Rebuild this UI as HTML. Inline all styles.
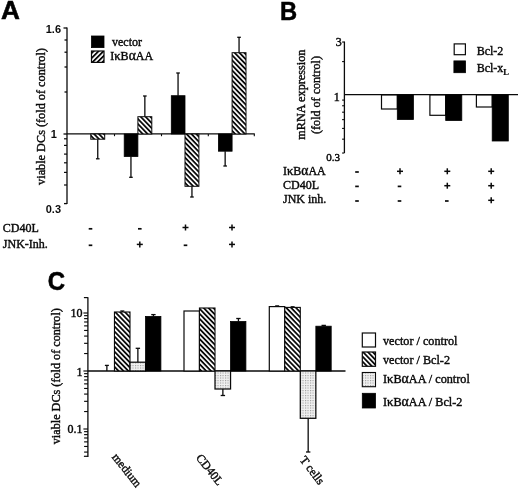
<!DOCTYPE html>
<html><head><meta charset="utf-8"><title>Figure</title>
<style>html,body{margin:0;padding:0;background:#fff;}svg{filter:grayscale(1);display:block;position:absolute;left:0;top:0}text{fill:#0a0a0a}</style></head>
<body><svg width="520" height="489" viewBox="0 0 520 489">
<rect width="520" height="489" fill="#fff"/>
<defs>
<pattern id="hA" width="3.5" height="3.5" patternUnits="userSpaceOnUse" patternTransform="rotate(46)"><rect width="3.5" height="3.5" fill="#fff"/><rect y="0" width="3.5" height="1.8" fill="#0a0a0a"/></pattern>
<pattern id="hL" width="3.5" height="3.5" patternUnits="userSpaceOnUse" patternTransform="rotate(-45)"><rect width="3.5" height="3.5" fill="#fff"/><rect y="0" width="3.5" height="1.8" fill="#0a0a0a"/></pattern>
<pattern id="hC" width="3.5" height="3.5" patternUnits="userSpaceOnUse" patternTransform="rotate(46)"><rect width="3.5" height="3.5" fill="#fff"/><rect y="0" width="3.5" height="1.8" fill="#0a0a0a"/></pattern>
<pattern id="hC2" width="3.5" height="3.5" patternUnits="userSpaceOnUse" patternTransform="rotate(46)"><rect width="3.5" height="3.5" fill="#fff"/><rect y="0" width="3.5" height="1.8" fill="#0a0a0a"/></pattern>
<pattern id="dC" width="2.5" height="2.5" patternUnits="userSpaceOnUse"><rect width="2.5" height="2.5" fill="#f1f1f1"/><rect width="1.1" height="1.1" fill="#999"/></pattern>
</defs>
<text transform="translate(0.9 19.1) scale(1.09 1.09)" x="0" y="0" font-family="'Liberation Sans', sans-serif" font-size="24" font-weight="bold" stroke="#000" stroke-width="0.5" style="fill:#000">A</text>
<line x1="67" y1="27.5" x2="67" y2="204" stroke="#0a0a0a" stroke-width="1.3" />
<line x1="63.5" y1="28" x2="67" y2="28" stroke="#0a0a0a" stroke-width="1.3" />
<line x1="64.5" y1="40" x2="67" y2="40" stroke="#0a0a0a" stroke-width="1.3" />
<line x1="64.5" y1="52.2" x2="67" y2="52.2" stroke="#0a0a0a" stroke-width="1.3" />
<line x1="64.5" y1="67" x2="67" y2="67" stroke="#0a0a0a" stroke-width="1.3" />
<line x1="64.5" y1="92" x2="67" y2="92" stroke="#0a0a0a" stroke-width="1.3" />
<line x1="63.5" y1="134" x2="67" y2="134" stroke="#0a0a0a" stroke-width="1.3" />
<line x1="64" y1="138.8" x2="67" y2="138.8" stroke="#0a0a0a" stroke-width="1.2" />
<line x1="64" y1="145.4" x2="67" y2="145.4" stroke="#0a0a0a" stroke-width="1.2" />
<line x1="64" y1="154.1" x2="67" y2="154.1" stroke="#0a0a0a" stroke-width="1.2" />
<line x1="64" y1="162.8" x2="67" y2="162.8" stroke="#0a0a0a" stroke-width="1.2" />
<line x1="64" y1="172.4" x2="67" y2="172.4" stroke="#0a0a0a" stroke-width="1.2" />
<line x1="64" y1="185" x2="67" y2="185" stroke="#0a0a0a" stroke-width="1.2" />
<line x1="64" y1="203.6" x2="67" y2="203.6" stroke="#0a0a0a" stroke-width="1.3" />
<line x1="67" y1="133.9" x2="254.8" y2="133.9" stroke="#0a0a0a" stroke-width="1.15" />
<line x1="114.5" y1="134" x2="114.5" y2="136.2" stroke="#0a0a0a" stroke-width="1.1" />
<line x1="161.5" y1="134" x2="161.5" y2="136.2" stroke="#0a0a0a" stroke-width="1.1" />
<line x1="208.3" y1="134" x2="208.3" y2="136.2" stroke="#0a0a0a" stroke-width="1.1" />
<line x1="254.3" y1="134" x2="254.3" y2="136.2" stroke="#0a0a0a" stroke-width="1.1" />
<text x="61" y="32.8" font-family="'Liberation Sans', serif" font-size="11" font-weight="bold" text-anchor="end" >1.6</text>
<text x="56.8" y="137.8" font-family="'Liberation Sans', serif" font-size="11" font-weight="bold" text-anchor="end" >1</text>
<text x="61" y="213" font-family="'Liberation Sans', serif" font-size="11" font-weight="bold" text-anchor="end" >0.3</text>
<text x="44.8" y="116.5" font-family="'Liberation Serif', serif" font-size="12.25" font-weight="normal" text-anchor="middle" transform="rotate(-90 44.8 116.5)" stroke="#0a0a0a" stroke-width="0.4" >viable DCs (fold of control)</text>
<line x1="97.75" y1="139.2" x2="97.75" y2="158.8" stroke="#0a0a0a" stroke-width="1.3" />
<line x1="95.95" y1="158.8" x2="99.55" y2="158.8" stroke="#0a0a0a" stroke-width="1.3" />
<rect x="90.80" y="134.00" width="13.90" height="5.20" fill="url(#hA)" stroke="#0a0a0a" stroke-width="1"/>
<line x1="130.95000000000002" y1="156.5" x2="130.95000000000002" y2="177.3" stroke="#0a0a0a" stroke-width="1.3" />
<line x1="129.15" y1="177.3" x2="132.75000000000003" y2="177.3" stroke="#0a0a0a" stroke-width="1.3" />
<rect x="124.20" y="134.00" width="13.70" height="22.50" fill="#000" stroke="#000" stroke-width="0.8"/>
<line x1="144.85" y1="116.7" x2="144.85" y2="96" stroke="#0a0a0a" stroke-width="1.3" />
<line x1="143.04999999999998" y1="96" x2="146.65" y2="96" stroke="#0a0a0a" stroke-width="1.3" />
<rect x="137.90" y="116.70" width="13.90" height="17.30" fill="url(#hA)" stroke="#0a0a0a" stroke-width="1"/>
<line x1="178.05" y1="95.7" x2="178.05" y2="73" stroke="#0a0a0a" stroke-width="1.3" />
<line x1="176.25" y1="73" x2="179.85000000000002" y2="73" stroke="#0a0a0a" stroke-width="1.3" />
<rect x="171.30" y="95.70" width="13.70" height="38.30" fill="#000" stroke="#000" stroke-width="0.8"/>
<line x1="191.95" y1="186.3" x2="191.95" y2="197" stroke="#0a0a0a" stroke-width="1.3" />
<line x1="190.14999999999998" y1="197" x2="193.75" y2="197" stroke="#0a0a0a" stroke-width="1.3" />
<rect x="185.00" y="134.00" width="13.90" height="52.30" fill="url(#hA)" stroke="#0a0a0a" stroke-width="1"/>
<line x1="225.15" y1="151.2" x2="225.15" y2="166" stroke="#0a0a0a" stroke-width="1.3" />
<line x1="223.35" y1="166" x2="226.95000000000002" y2="166" stroke="#0a0a0a" stroke-width="1.3" />
<rect x="218.40" y="134.00" width="13.70" height="17.20" fill="#000" stroke="#000" stroke-width="0.8"/>
<line x1="239.04999999999998" y1="52.7" x2="239.04999999999998" y2="37.3" stroke="#0a0a0a" stroke-width="1.3" />
<line x1="237.24999999999997" y1="37.3" x2="240.85" y2="37.3" stroke="#0a0a0a" stroke-width="1.3" />
<rect x="232.10" y="52.70" width="13.90" height="81.30" fill="url(#hA)" stroke="#0a0a0a" stroke-width="1"/>
<rect x="91.50" y="36.00" width="12.50" height="11.60" fill="#000" stroke="#000" stroke-width="0.8"/>
<rect x="91.50" y="51.00" width="12.50" height="11.40" fill="url(#hL)" stroke="#0a0a0a" stroke-width="1.2"/>
<text x="112" y="45.8" font-family="'Liberation Serif', serif" font-size="12" font-weight="normal" text-anchor="start" stroke="#0a0a0a" stroke-width="0.4" >vector</text>
<text x="110.3" y="60.1" font-family="'Liberation Serif', serif" font-size="12" font-weight="normal" text-anchor="start" stroke="#0a0a0a" stroke-width="0.4" >I<tspan font-size="12.5">κ</tspan>B<tspan font-size="13.6">α</tspan>AA</text>
<text x="2.8" y="231.6" font-family="'Liberation Serif', serif" font-size="12" font-weight="normal" text-anchor="start" stroke="#0a0a0a" stroke-width="0.4" >CD40L</text>
<text x="2.8" y="247.9" font-family="'Liberation Serif', serif" font-size="12" font-weight="normal" text-anchor="start" stroke="#0a0a0a" stroke-width="0.4" >JNK-Inh.</text>
<line x1="88.7" y1="228.8" x2="92.3" y2="228.8" stroke="#0a0a0a" stroke-width="1.7" />
<line x1="88.7" y1="245.3" x2="92.3" y2="245.3" stroke="#0a0a0a" stroke-width="1.7" />
<line x1="138.0" y1="228.8" x2="141.60000000000002" y2="228.8" stroke="#0a0a0a" stroke-width="1.7" />
<line x1="136.8" y1="244.4" x2="142.8" y2="244.4" stroke="#0a0a0a" stroke-width="1.5" />
<line x1="139.8" y1="241.4" x2="139.8" y2="247.4" stroke="#0a0a0a" stroke-width="1.5" />
<line x1="182.5" y1="227.5" x2="188.5" y2="227.5" stroke="#0a0a0a" stroke-width="1.5" />
<line x1="185.5" y1="224.5" x2="185.5" y2="230.5" stroke="#0a0a0a" stroke-width="1.5" />
<line x1="183.7" y1="245.3" x2="187.3" y2="245.3" stroke="#0a0a0a" stroke-width="1.7" />
<line x1="229" y1="227.5" x2="235" y2="227.5" stroke="#0a0a0a" stroke-width="1.5" />
<line x1="232" y1="224.5" x2="232" y2="230.5" stroke="#0a0a0a" stroke-width="1.5" />
<line x1="229" y1="244.4" x2="235" y2="244.4" stroke="#0a0a0a" stroke-width="1.5" />
<line x1="232" y1="241.4" x2="232" y2="247.4" stroke="#0a0a0a" stroke-width="1.5" />
<text transform="translate(279.9 19.6) scale(0.99 1.065)" x="0" y="0" font-family="'Liberation Sans', sans-serif" font-size="24" font-weight="bold" stroke="#000" stroke-width="0.5" style="fill:#000">B</text>
<line x1="344.4" y1="41.5" x2="344.4" y2="153" stroke="#0a0a0a" stroke-width="1.3" />
<line x1="344.4" y1="94.6" x2="518" y2="94.6" stroke="#0a0a0a" stroke-width="1.15" />
<line x1="342.09999999999997" y1="42.03954072611747" x2="344.4" y2="42.03954072611747" stroke="#0a0a0a" stroke-width="1.1" />
<line x1="342.09999999999997" y1="61.58567048129809" x2="344.4" y2="61.58567048129809" stroke="#0a0a0a" stroke-width="1.1" />
<line x1="342.09999999999997" y1="100.07908145223493" x2="344.4" y2="100.07908145223493" stroke="#0a0a0a" stroke-width="1.1" />
<line x1="342.09999999999997" y1="105.75701144389426" x2="344.4" y2="105.75701144389426" stroke="#0a0a0a" stroke-width="1.1" />
<line x1="342.09999999999997" y1="112.19411755841749" x2="344.4" y2="112.19411755841749" stroke="#0a0a0a" stroke-width="1.1" />
<line x1="342.09999999999997" y1="119.62521120741556" x2="344.4" y2="119.62521120741556" stroke="#0a0a0a" stroke-width="1.1" />
<line x1="342.09999999999997" y1="128.41432951870192" x2="344.4" y2="128.41432951870192" stroke="#0a0a0a" stroke-width="1.1" />
<line x1="342.09999999999997" y1="139.17134096259616" x2="344.4" y2="139.17134096259616" stroke="#0a0a0a" stroke-width="1.1" />
<line x1="342.09999999999997" y1="153.03954072611748" x2="344.4" y2="153.03954072611748" stroke="#0a0a0a" stroke-width="1.1" />
<text x="341.8" y="45.8" font-family="'Liberation Serif', serif" font-size="12" font-weight="normal" text-anchor="end" stroke="#0a0a0a" stroke-width="0.45" >3</text>
<text x="339.8" y="101.1" font-family="'Liberation Serif', serif" font-size="12" font-weight="normal" text-anchor="end" stroke="#0a0a0a" stroke-width="0.45" >1</text>
<text x="340" y="161" font-family="'Liberation Serif', serif" font-size="11" font-weight="normal" text-anchor="end" stroke="#0a0a0a" stroke-width="0.45" >0.3</text>
<text x="305.2" y="94.6" font-family="'Liberation Serif', serif" font-size="12.25" font-weight="normal" text-anchor="middle" transform="rotate(-90 305.2 94.6)" stroke="#0a0a0a" stroke-width="0.4" >mRNA expression</text>
<text x="319.6" y="95.0" font-family="'Liberation Serif', serif" font-size="12.1" font-weight="normal" text-anchor="middle" transform="rotate(-90 319.6 95.0)" stroke="#0a0a0a" stroke-width="0.4" >(fold of control)</text>
<rect x="381.50" y="95.00" width="15.80" height="14.00" fill="#fff" stroke="#0a0a0a" stroke-width="1.2"/>
<rect x="397.30" y="95.00" width="16.10" height="24.50" fill="#000" stroke="#000" stroke-width="0.8"/>
<rect x="429.90" y="95.00" width="15.80" height="20.30" fill="#fff" stroke="#0a0a0a" stroke-width="1.2"/>
<rect x="445.70" y="95.00" width="16.10" height="25.50" fill="#000" stroke="#000" stroke-width="0.8"/>
<rect x="476.40" y="95.00" width="15.80" height="12.00" fill="#fff" stroke="#0a0a0a" stroke-width="1.2"/>
<rect x="492.20" y="95.00" width="16.10" height="46.00" fill="#000" stroke="#000" stroke-width="0.8"/>
<rect x="454.20" y="43.90" width="11.20" height="10.80" fill="#fff" stroke="#0a0a0a" stroke-width="1.2"/>
<rect x="453.90" y="60.90" width="11.60" height="11.80" fill="#000" stroke="#000" stroke-width="0.8"/>
<text x="476.7" y="54.7" font-family="'Liberation Serif', serif" font-size="12" font-weight="normal" text-anchor="start" stroke="#0a0a0a" stroke-width="0.4" >Bcl-2</text>
<text x="476.7" y="72" font-family="'Liberation Serif', serif" font-size="12" stroke="#0a0a0a" stroke-width="0.4">Bcl-x<tspan font-size="8.5" font-weight="bold" dy="2.8" stroke-width="0.2">L</tspan></text>
<text x="283" y="174.5" font-family="'Liberation Serif', serif" font-size="12" font-weight="normal" text-anchor="start" stroke="#0a0a0a" stroke-width="0.4" >I<tspan font-size="12.5">κ</tspan>B<tspan font-size="13.6">α</tspan>AA</text>
<text x="283" y="188.7" font-family="'Liberation Serif', serif" font-size="12" font-weight="normal" text-anchor="start" stroke="#0a0a0a" stroke-width="0.4" >CD40L</text>
<text x="283" y="203.2" font-family="'Liberation Serif', serif" font-size="12" font-weight="normal" text-anchor="start" stroke="#0a0a0a" stroke-width="0.4" >JNK inh.</text>
<line x1="355.2" y1="172.0" x2="358.8" y2="172.0" stroke="#0a0a0a" stroke-width="1.7" />
<line x1="397" y1="171.3" x2="403" y2="171.3" stroke="#0a0a0a" stroke-width="1.5" />
<line x1="400" y1="168.3" x2="400" y2="174.3" stroke="#0a0a0a" stroke-width="1.5" />
<line x1="444.3" y1="171.3" x2="450.3" y2="171.3" stroke="#0a0a0a" stroke-width="1.5" />
<line x1="447.3" y1="168.3" x2="447.3" y2="174.3" stroke="#0a0a0a" stroke-width="1.5" />
<line x1="488.2" y1="171.3" x2="494.2" y2="171.3" stroke="#0a0a0a" stroke-width="1.5" />
<line x1="491.2" y1="168.3" x2="491.2" y2="174.3" stroke="#0a0a0a" stroke-width="1.5" />
<line x1="355.2" y1="186.39999999999998" x2="358.8" y2="186.39999999999998" stroke="#0a0a0a" stroke-width="1.7" />
<line x1="397.7" y1="186.39999999999998" x2="401.3" y2="186.39999999999998" stroke="#0a0a0a" stroke-width="1.7" />
<line x1="444.3" y1="185.7" x2="450.3" y2="185.7" stroke="#0a0a0a" stroke-width="1.5" />
<line x1="447.3" y1="182.7" x2="447.3" y2="188.7" stroke="#0a0a0a" stroke-width="1.5" />
<line x1="488.2" y1="185.7" x2="494.2" y2="185.7" stroke="#0a0a0a" stroke-width="1.5" />
<line x1="491.2" y1="182.7" x2="491.2" y2="188.7" stroke="#0a0a0a" stroke-width="1.5" />
<line x1="355.2" y1="201.0" x2="358.8" y2="201.0" stroke="#0a0a0a" stroke-width="1.7" />
<line x1="397.7" y1="201.0" x2="401.3" y2="201.0" stroke="#0a0a0a" stroke-width="1.7" />
<line x1="445.0" y1="201.0" x2="448.6" y2="201.0" stroke="#0a0a0a" stroke-width="1.7" />
<line x1="488.2" y1="200.3" x2="494.2" y2="200.3" stroke="#0a0a0a" stroke-width="1.5" />
<line x1="491.2" y1="197.3" x2="491.2" y2="203.3" stroke="#0a0a0a" stroke-width="1.5" />
<text transform="translate(47.7 290.0) scale(1.0 1.09)" x="0" y="0" font-family="'Liberation Sans', sans-serif" font-size="24" font-weight="bold" stroke="#000" stroke-width="0.5" style="fill:#000">C</text>
<line x1="87.9" y1="297.2" x2="87.9" y2="456.9" stroke="#0a0a0a" stroke-width="1.3" />
<line x1="83.9" y1="297.6" x2="87.9" y2="297.6" stroke="#0a0a0a" stroke-width="1.2" />
<line x1="83.4" y1="313.0" x2="87.9" y2="313.0" stroke="#0a0a0a" stroke-width="1.15" />
<line x1="83.4" y1="371.0" x2="87.9" y2="371.0" stroke="#0a0a0a" stroke-width="1.15" />
<line x1="84.10000000000001" y1="353.5402602514891" x2="87.9" y2="353.5402602514891" stroke="#0a0a0a" stroke-width="1.15" />
<line x1="84.10000000000001" y1="343.32696722625957" x2="87.9" y2="343.32696722625957" stroke="#0a0a0a" stroke-width="1.15" />
<line x1="84.10000000000001" y1="336.0805205029782" x2="87.9" y2="336.0805205029782" stroke="#0a0a0a" stroke-width="1.15" />
<line x1="84.10000000000001" y1="330.4597397485109" x2="87.9" y2="330.4597397485109" stroke="#0a0a0a" stroke-width="1.15" />
<line x1="84.10000000000001" y1="325.86722747774866" x2="87.9" y2="325.86722747774866" stroke="#0a0a0a" stroke-width="1.15" />
<line x1="84.10000000000001" y1="321.9843136791731" x2="87.9" y2="321.9843136791731" stroke="#0a0a0a" stroke-width="1.15" />
<line x1="84.10000000000001" y1="318.62078075446726" x2="87.9" y2="318.62078075446726" stroke="#0a0a0a" stroke-width="1.15" />
<line x1="84.10000000000001" y1="315.65393445251914" x2="87.9" y2="315.65393445251914" stroke="#0a0a0a" stroke-width="1.15" />
<line x1="83.4" y1="429.0" x2="87.9" y2="429.0" stroke="#0a0a0a" stroke-width="1.15" />
<line x1="84.10000000000001" y1="411.5402602514891" x2="87.9" y2="411.5402602514891" stroke="#0a0a0a" stroke-width="1.15" />
<line x1="84.10000000000001" y1="401.32696722625957" x2="87.9" y2="401.32696722625957" stroke="#0a0a0a" stroke-width="1.15" />
<line x1="84.10000000000001" y1="394.0805205029782" x2="87.9" y2="394.0805205029782" stroke="#0a0a0a" stroke-width="1.15" />
<line x1="84.10000000000001" y1="388.4597397485109" x2="87.9" y2="388.4597397485109" stroke="#0a0a0a" stroke-width="1.15" />
<line x1="84.10000000000001" y1="383.86722747774866" x2="87.9" y2="383.86722747774866" stroke="#0a0a0a" stroke-width="1.15" />
<line x1="84.10000000000001" y1="379.9843136791731" x2="87.9" y2="379.9843136791731" stroke="#0a0a0a" stroke-width="1.15" />
<line x1="84.10000000000001" y1="376.62078075446726" x2="87.9" y2="376.62078075446726" stroke="#0a0a0a" stroke-width="1.15" />
<line x1="84.10000000000001" y1="373.65393445251914" x2="87.9" y2="373.65393445251914" stroke="#0a0a0a" stroke-width="1.15" />
<line x1="84.10000000000001" y1="452.0805205029782" x2="87.9" y2="452.0805205029782" stroke="#0a0a0a" stroke-width="1.15" />
<line x1="84.10000000000001" y1="446.4597397485109" x2="87.9" y2="446.4597397485109" stroke="#0a0a0a" stroke-width="1.15" />
<line x1="84.10000000000001" y1="441.86722747774866" x2="87.9" y2="441.86722747774866" stroke="#0a0a0a" stroke-width="1.15" />
<line x1="84.10000000000001" y1="437.9843136791731" x2="87.9" y2="437.9843136791731" stroke="#0a0a0a" stroke-width="1.15" />
<line x1="84.10000000000001" y1="434.62078075446726" x2="87.9" y2="434.62078075446726" stroke="#0a0a0a" stroke-width="1.15" />
<line x1="84.10000000000001" y1="431.65393445251914" x2="87.9" y2="431.65393445251914" stroke="#0a0a0a" stroke-width="1.15" />
<line x1="83.9" y1="456.3" x2="87.9" y2="456.3" stroke="#0a0a0a" stroke-width="1.2" />
<line x1="87.9" y1="371" x2="345.5" y2="371" stroke="#0a0a0a" stroke-width="1.3" />
<text x="82.6" y="316.9" font-family="'Liberation Serif', serif" font-size="12" font-weight="normal" text-anchor="end" stroke="#0a0a0a" stroke-width="0.45" >10</text>
<text x="82.6" y="375.5" font-family="'Liberation Serif', serif" font-size="12" font-weight="normal" text-anchor="end" stroke="#0a0a0a" stroke-width="0.45" >1</text>
<text x="82.6" y="433.2" font-family="'Liberation Serif', serif" font-size="12" font-weight="normal" text-anchor="end" stroke="#0a0a0a" stroke-width="0.45" >0.1</text>
<text x="59.6" y="376.2" font-family="'Liberation Serif', serif" font-size="12.2" font-weight="normal" text-anchor="middle" transform="rotate(-90 59.6 376.2)" stroke="#0a0a0a" stroke-width="0.4" >viable DCs (fold of control)</text>
<line x1="106.875" y1="371" x2="106.875" y2="365.4" stroke="#0a0a0a" stroke-width="1.3" />
<line x1="104.875" y1="365.4" x2="108.875" y2="365.4" stroke="#0a0a0a" stroke-width="1.3" />
<line x1="122.325" y1="312.0" x2="122.325" y2="311.0" stroke="#0a0a0a" stroke-width="1.3" />
<line x1="120.325" y1="311.0" x2="124.325" y2="311.0" stroke="#0a0a0a" stroke-width="1.3" />
<line x1="137.875" y1="362.2" x2="137.875" y2="348.3" stroke="#0a0a0a" stroke-width="1.3" />
<line x1="135.675" y1="348.3" x2="140.075" y2="348.3" stroke="#0a0a0a" stroke-width="1.3" />
<line x1="153.425" y1="316.4" x2="153.425" y2="314.6" stroke="#0a0a0a" stroke-width="1.3" />
<line x1="151.22500000000002" y1="314.6" x2="155.625" y2="314.6" stroke="#0a0a0a" stroke-width="1.3" />
<rect x="114.45" y="312.00" width="15.55" height="59.00" fill="url(#hC)" stroke="#0a0a0a" stroke-width="1.1"/>
<rect x="130.00" y="362.20" width="15.55" height="8.80" fill="url(#dC)" stroke="#0a0a0a" stroke-width="1.25"/>
<rect x="145.55" y="316.40" width="15.35" height="54.60" fill="#000" stroke="#000" stroke-width="0.8"/>
<line x1="222.875" y1="389" x2="222.875" y2="395.5" stroke="#0a0a0a" stroke-width="1.3" />
<line x1="220.675" y1="395.5" x2="225.075" y2="395.5" stroke="#0a0a0a" stroke-width="1.3" />
<line x1="238.425" y1="321.5" x2="238.425" y2="318.5" stroke="#0a0a0a" stroke-width="1.3" />
<line x1="236.22500000000002" y1="318.5" x2="240.625" y2="318.5" stroke="#0a0a0a" stroke-width="1.3" />
<rect x="184.00" y="311.00" width="15.45" height="60.00" fill="#fff" stroke="#0a0a0a" stroke-width="1.2"/>
<rect x="199.45" y="308.00" width="15.55" height="63.00" fill="url(#hC)" stroke="#0a0a0a" stroke-width="1.1"/>
<rect x="215.00" y="371.00" width="15.55" height="18.00" fill="url(#dC)" stroke="#0a0a0a" stroke-width="1.25"/>
<rect x="230.55" y="321.50" width="15.35" height="49.50" fill="#000" stroke="#000" stroke-width="0.8"/>
<line x1="277.175" y1="306.6" x2="277.175" y2="305.9" stroke="#0a0a0a" stroke-width="1.3" />
<line x1="275.175" y1="305.9" x2="279.175" y2="305.9" stroke="#0a0a0a" stroke-width="1.3" />
<line x1="292.625" y1="307.4" x2="292.625" y2="306.8" stroke="#0a0a0a" stroke-width="1.3" />
<line x1="290.625" y1="306.8" x2="294.625" y2="306.8" stroke="#0a0a0a" stroke-width="1.3" />
<line x1="308.175" y1="418.3" x2="308.175" y2="452" stroke="#0a0a0a" stroke-width="1.3" />
<line x1="305.975" y1="452" x2="310.375" y2="452" stroke="#0a0a0a" stroke-width="1.3" />
<line x1="323.725" y1="326.2" x2="323.725" y2="325.4" stroke="#0a0a0a" stroke-width="1.3" />
<line x1="321.52500000000003" y1="325.4" x2="325.925" y2="325.4" stroke="#0a0a0a" stroke-width="1.3" />
<rect x="269.30" y="306.60" width="15.45" height="64.40" fill="#fff" stroke="#0a0a0a" stroke-width="1.2"/>
<rect x="284.75" y="307.40" width="15.55" height="63.60" fill="url(#hC)" stroke="#0a0a0a" stroke-width="1.1"/>
<rect x="300.30" y="371.00" width="15.55" height="47.30" fill="url(#dC)" stroke="#0a0a0a" stroke-width="1.25"/>
<rect x="315.85" y="326.20" width="15.35" height="44.80" fill="#000" stroke="#000" stroke-width="0.8"/>
<rect x="362.30" y="333.00" width="13.20" height="14.00" fill="#fff" stroke="#0a0a0a" stroke-width="1.2"/>
<rect x="362.30" y="352.00" width="13.20" height="14.30" fill="url(#hC2)" stroke="#0a0a0a" stroke-width="1.2"/>
<rect x="362.30" y="372.50" width="13.20" height="14.20" fill="url(#dC)" stroke="#0a0a0a" stroke-width="1.1"/>
<rect x="362.30" y="393.30" width="13.20" height="14.70" fill="#000" stroke="#000" stroke-width="0.8"/>
<text x="383" y="344.5" font-family="'Liberation Serif', serif" font-size="12.2" font-weight="normal" text-anchor="start" stroke="#0a0a0a" stroke-width="0.4" >vector / control</text>
<text x="383" y="363.7" font-family="'Liberation Serif', serif" font-size="12.2" font-weight="normal" text-anchor="start" stroke="#0a0a0a" stroke-width="0.4" >vector / Bcl-2</text>
<text x="383" y="383" font-family="'Liberation Serif', serif" font-size="12.2" font-weight="normal" text-anchor="start" stroke="#0a0a0a" stroke-width="0.4" >I<tspan font-size="12.7">κ</tspan>B<tspan font-size="13.8">α</tspan>AA / control</text>
<text x="383" y="406.2" font-family="'Liberation Serif', serif" font-size="12.2" font-weight="normal" text-anchor="start" stroke="#0a0a0a" stroke-width="0.4" >I<tspan font-size="12.7">κ</tspan>B<tspan font-size="13.8">α</tspan>AA / Bcl-2</text>
<text x="111.5" y="457.3" font-family="'Liberation Serif', serif" font-size="12" font-weight="normal" text-anchor="start" transform="rotate(51.5 111.5 457.3)" stroke="#0a0a0a" stroke-width="0.4" >medium</text>
<text x="195.5" y="458" font-family="'Liberation Serif', serif" font-size="12" font-weight="normal" text-anchor="start" transform="rotate(51.5 195.5 458)" stroke="#0a0a0a" stroke-width="0.4" >CD40L</text>
<text x="299.3" y="460" font-family="'Liberation Serif', serif" font-size="12" font-weight="normal" text-anchor="start" transform="rotate(52.5 299.3 460)" stroke="#0a0a0a" stroke-width="0.4" >T cells</text>
</svg></body></html>
